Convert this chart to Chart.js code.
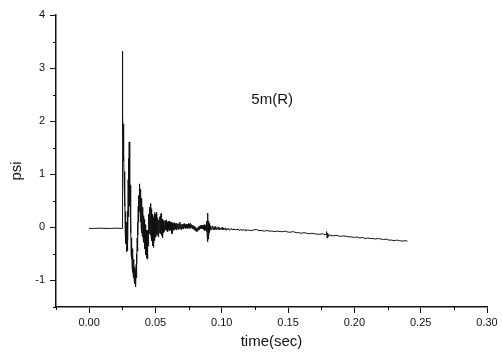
<!DOCTYPE html>
<html>
<head>
<meta charset="utf-8">
<script src="https://cdn.jsdelivr.net/npm/chart.js@4"></script>
<style>
    html, body { margin: 0; padding: 0; background: #ffffff; }
    #wrap { width: 502px; height: 356px; }
</style>
</head>
<body>
<div id="wrap"><canvas id="pressureChart" width="502" height="356"></canvas></div>
<script>
// Axis ticks
const xMajorTicks = [0, 0.05, 0.10, 0.15, 0.20, 0.25, 0.30];
const xMinorTicks = [-0.025, 0.025, 0.075, 0.125, 0.175, 0.225, 0.275];
const yMajorTicks = [-1, 0, 1, 2, 3, 4];
const yMinorTicks = [-1.5, -0.5, 0.5, 1.5, 2.5, 3.5];

// Pre-arrival baseline (explicit times)
const flatTime = [0, 0.004, 0.008, 0.012, 0.016, 0.020, 0.0248];
const flatPsi = [-0.02, -0.02, -0.015, -0.02, -0.02, -0.015, -0.02];

// Shock arrival and main burst, sampled every 0.0002 s from 0.025 s
const burstStart = 0.025;
const burstStep = 0.0002;
const burstPsi = [
    3.32, 2.30, 2.10, 1.70, 1.95, 1.25, 1.38, 0.85, 1.05, 0.40,
    0.62, -0.10, 0.30, -0.30, 0.10, -0.42, -0.10, -0.46, -0.20, -0.44,
    0.30, -0.25, 0.90, 0.20, 1.30, 0.70, 1.61, 0.90, 1.33, 0.40,
    0.80, -0.10, 0.20, -0.48, -0.20, -0.60, -0.30, -0.75, -0.40, -0.85,
    -0.50, -0.90, -0.60, -0.95, -0.70, -1.02, -0.75, -1.06, -0.80, -1.10,
    -0.85, -1.12, -0.70, -0.95, -0.50, -0.70, -0.20, -0.45, 0.10, -0.15,
    0.40, 0.10, 0.60, 0.30, 0.75, 0.40, 0.82, 0.30, 0.72, 0.10,
    0.62, 0.00, 0.55, -0.10, 0.45, -0.15, 0.38, -0.18, 0.30, -0.22,
    0.22, -0.28, 0.15, -0.35, 0.10, -0.40, 0.05, -0.48, 0.00, -0.52,
    -0.05, -0.55, -0.10, -0.58, -0.10, -0.60, -0.05, -0.35, 0.10, -0.20,
    0.25, -0.12, 0.32, -0.08, 0.38, -0.10, 0.42, -0.15, 0.45, -0.20,
    0.35, -0.25, 0.25, -0.30, 0.20, -0.35, 0.15, -0.38, 0.18, -0.30,
    0.22, -0.25, 0.28, -0.20, 0.25, -0.15, 0.20, -0.18, 0.24, -0.12,
    0.29, -0.10, 0.18, -0.15, 0.15, -0.12, 0.12, -0.18, 0.14, -0.10,
    0.18, -0.08, 0.20, -0.12, 0.22, -0.10, 0.26, -0.05, 0.25, -0.15,
    0.15, -0.20, 0.12, -0.15, 0.10, -0.10
];

// Decaying ringing, sampled every 0.0004 s from 0.0564 s
const ringStart = 0.0564;
const ringStep = 0.0004;
const ringPsi = [
    0.14, -0.08, 0.12, -0.05, 0.14, -0.06, 0.10, -0.08, 0.11, -0.04,
    0.12, -0.06, 0.09, -0.05, 0.10, -0.12, 0.07, -0.06, 0.08, -0.04,
    0.09, -0.03, 0.07, -0.05, 0.08, -0.02, 0.06, -0.04, 0.07, -0.02,
    0.10, -0.03, 0.06, -0.04, 0.05, -0.02, 0.06, -0.03, 0.07, 0.00,
    0.05, -0.02, 0.06, -0.01, 0.05, -0.02, 0.07, 0.00, 0.06, -0.02,
    0.08, 0.00, 0.05, -0.02, 0.04, -0.03, 0.03, -0.05, 0.02, -0.06,
    0.00, -0.08, -0.02, -0.07, 0.00, -0.05, 0.02, -0.04, 0.03, -0.03,
    0.04, -0.02, 0.03, -0.03, 0.04, -0.04, 0.05, -0.06, 0.03, -0.05,
    0.06
];

// Reflection spike near 0.09 s, sampled every 0.0002 s
const spikeStart = 0.0886;
const spikeStep = 0.0002;
const spikePsi = [
    -0.08, 0.12, -0.18, 0.27, -0.27, 0.20, -0.22, 0.12, -0.15, 0.08,
    -0.10, 0.05, -0.07, 0.03, -0.05
];

// Settling, sampled every 0.0006 s
const settleStart = 0.0918;
const settleStep = 0.0006;
const settlePsi = [
    0.02, -0.04, 0.03, -0.05, 0.01, -0.04, 0.02, -0.05, 0.00, -0.04,
    0.01, -0.05, -0.01, -0.04, 0.00, -0.05, -0.02, -0.04, -0.01, -0.05,
    -0.02, -0.04, -0.02, -0.05, -0.03, -0.04, -0.02, -0.05, -0.03, -0.05,
    -0.03, -0.04, -0.05, -0.03, -0.05, -0.04, -0.06, -0.04, -0.05, -0.04,
    -0.06, -0.04, -0.05, -0.06, -0.04, -0.06, -0.05
];

// Slow tail, sampled every 0.002 s
const tailAStart = 0.120;
const tailAStep = 0.002;
const tailAPsi = [
    -0.05, -0.06, -0.05, -0.04, -0.06, -0.06, -0.07, -0.06, -0.07, -0.07,
    -0.08, -0.07, -0.08, -0.08, -0.07, -0.09, -0.09, -0.08, -0.10, -0.10,
    -0.11, -0.10, -0.11, -0.12, -0.11, -0.12, -0.13, -0.13, -0.12, -0.14
];

// Small blip near 0.179 s
const blipStart = 0.1786;
const blipStep = 0.0004;
const blipPsi = [-0.13, -0.08, -0.20, -0.11, -0.17, -0.14];

const tailBStart = 0.182;
const tailBStep = 0.002;
const tailBPsi = [
    -0.15, -0.16, -0.15, -0.16, -0.17, -0.16, -0.17, -0.18, -0.18, -0.19,
    -0.18, -0.20, -0.19, -0.21, -0.20, -0.21, -0.21, -0.22, -0.21, -0.22,
    -0.23, -0.22, -0.24, -0.24, -0.25, -0.24, -0.25, -0.26, -0.25, -0.26
];

// Turn a uniformly sampled segment into {x, y} points
function sampled(start, step, values) {
    return values.map((v, i) => ({ x: +(start + i * step).toFixed(5), y: v }));
}

const points = [
    ...flatTime.map((t, i) => ({ x: t, y: flatPsi[i] })),
    ...sampled(burstStart, burstStep, burstPsi),
    ...sampled(ringStart, ringStep, ringPsi),
    ...sampled(spikeStart, spikeStep, spikePsi),
    ...sampled(settleStart, settleStep, settlePsi),
    ...sampled(tailAStart, tailAStep, tailAPsi),
    ...sampled(blipStart, blipStep, blipPsi),
    ...sampled(tailBStart, tailBStep, tailBPsi),
];

const ink = '#111111';
const fontFamily = '"Liberation Sans", Arial, Helvetica, sans-serif';

// Minor ticks, y title and the in-plot label
const extrasPlugin = {
    id: 'extras',
    afterDraw(chart) {
        const ctx = chart.ctx;
        const x = chart.scales.x;
        const y = chart.scales.y;
        const area = chart.chartArea;
        ctx.save();
        ctx.strokeStyle = ink;
        ctx.lineWidth = 1;
        ctx.beginPath();
        xMinorTicks.forEach((v) => {
            const px = Math.round(x.getPixelForValue(v)) + 0.5;
            ctx.moveTo(px, area.bottom);
            ctx.lineTo(px, area.bottom + 3);
        });
        yMinorTicks.forEach((v) => {
            const py = Math.round(y.getPixelForValue(v)) + 0.5;
            ctx.moveTo(area.left, py);
            ctx.lineTo(area.left - 3, py);
        });
        ctx.stroke();

        ctx.fillStyle = ink;
        ctx.font = '15px ' + fontFamily;
        ctx.textAlign = 'center';
        ctx.textBaseline = 'middle';
        ctx.fillText('5m(R)', x.getPixelForValue(0.138), y.getPixelForValue(2.4));

        ctx.translate(17, (area.top + area.bottom) / 2 + 10);
        ctx.rotate(-Math.PI / 2);
        ctx.fillText('psi', 0, 0);
        ctx.restore();
    },
};

const canvas = document.getElementById('pressureChart');
new Chart(canvas.getContext('2d'), {
    type: 'line',
    data: {
        datasets: [{
            data: points,
            borderColor: ink,
            borderWidth: 1,
            pointRadius: 0,
            tension: 0,
            fill: false,
        }],
    },
    options: {
        responsive: false,
        animation: false,
        events: [],
        layout: { padding: { top: 15, right: 15, left: 0, bottom: 0 } },
        plugins: {
            legend: { display: false },
            tooltip: { enabled: false },
        },
        scales: {
            x: {
                type: 'linear',
                min: -0.025,
                max: 0.30,
                afterBuildTicks: (scale) => { scale.ticks = xMajorTicks.map((v) => ({ value: v })); },
                afterFit: (scale) => { scale.height = 49; },
                grid: { drawOnChartArea: false, drawTicks: true, tickLength: 6, tickColor: ink, tickWidth: 1 },
                border: { display: true, color: ink, width: 1.5 },
                ticks: {
                    color: ink,
                    font: { family: fontFamily, size: 11 },
                    padding: 3,
                    maxRotation: 0,
                    autoSkip: false,
                    callback: (v) => Number(v).toFixed(2),
                },
                title: {
                    display: true,
                    text: 'time(sec)',
                    color: ink,
                    font: { family: fontFamily, size: 15 },
                    padding: { top: 0, bottom: 5 },
                },
            },
            y: {
                min: -1.5,
                max: 4,
                afterBuildTicks: (scale) => { scale.ticks = yMajorTicks.map((v) => ({ value: v })); },
                afterFit: (scale) => { scale.width = 56; },
                grid: { drawOnChartArea: false, drawTicks: true, tickLength: 6, tickColor: ink, tickWidth: 1 },
                border: { display: true, color: ink, width: 1.5 },
                ticks: {
                    color: ink,
                    font: { family: fontFamily, size: 11 },
                    padding: 5,
                    autoSkip: false,
                    callback: (v) => String(v),
                },
            },
        },
    },
    plugins: [extrasPlugin],
});
</script>
</body>
</html>
